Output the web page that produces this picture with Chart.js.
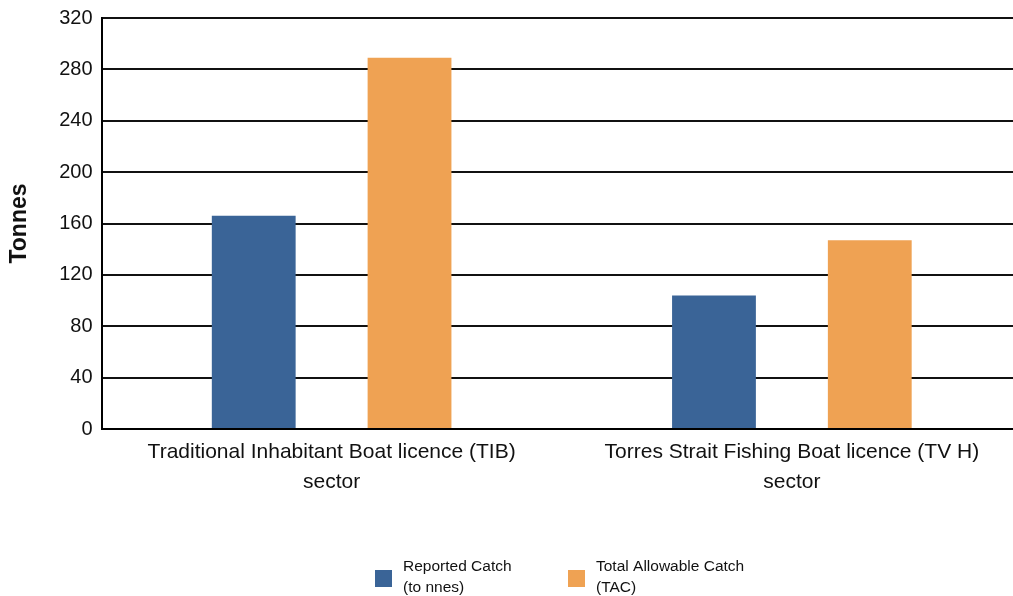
<!DOCTYPE html>
<html>
<head>
<meta charset="utf-8">
<script src="https://cdn.jsdelivr.net/npm/chart.js@4.4.1/dist/chart.umd.min.js"></script>
<style>
  html, body { margin: 0; padding: 0; background: #fff; overflow: hidden; }
  #wrap { width: 1023px; height: 596px; }
</style>
</head>
<body>
<div id="wrap"><canvas id="catchChart"></canvas></div>
<script>
  const categories = [
    ['Traditional Inhabitant Boat licence (TIB)', 'sector'],
    ['Torres Strait Fishing Boat licence (TV H)', 'sector']
  ];
  const reportedCatch = [166, 104];
  const totalAllowable = [289, 147];
  const seriesNames = ['Reported Catch (to nnes)', 'Total Allowable Catch (TAC)'];
  const legendLines = [['Reported Catch', '(to nnes)'], ['Total Allowable Catch', '(TAC)']];
  const yTicks = [0, 40, 80, 120, 160, 200, 240, 280, 320];

  const FONT = '"Liberation Sans", Arial, sans-serif';
  const BLUE = '#3a6497';
  const ORANGE = '#efa253';

  // two-line legend under the chart, drawn on the canvas
  const legendPlugin = {
    id: 'twoLineLegend',
    afterDraw(chart) {
      const c = chart.ctx;
      const boxX = [375, 568];
      c.save();
      c.font = '15.5px ' + FONT;
      c.textBaseline = 'middle';
      chart.data.datasets.forEach((ds, i) => {
        c.fillStyle = ds.backgroundColor;
        c.fillRect(boxX[i], 570, 17, 17);
        c.fillStyle = '#111';
        legendLines[i].forEach((line, j) => {
          c.fillText(line, boxX[i] + 28, 567 + j * 21);
        });
      });
      c.restore();
    }
  };

  const ctx = document.getElementById('catchChart').getContext('2d');

  const catchChart = new Chart(ctx, {
    type: 'bar',
    data: {
      labels: categories,
      datasets: [
        { label: seriesNames[0], data: reportedCatch, backgroundColor: BLUE },
        { label: seriesNames[1], data: totalAllowable, backgroundColor: ORANGE }
      ]
    },
    options: {
      responsive: true,
      maintainAspectRatio: false,
      animation: false,
      categoryPercentage: 0.677,
      barPercentage: 0.538,
      layout: { padding: { top: 18, right: 1, left: 0, bottom: 0 } },
      plugins: {
        legend: { display: false },
        tooltip: { enabled: false }
      },
      scales: {
        x: {
          grid: { display: false, drawTicks: false },
          border: { display: true, color: '#000', width: 2 },
          ticks: {
            color: '#111',
            padding: 9,
            maxRotation: 0,
            autoSkip: false,
            font: { family: FONT, size: 21, lineHeight: 1.4 }
          },
          afterFit(scale) { scale.height = 167; }
        },
        y: {
          min: 0,
          max: 320,
          afterBuildTicks(scale) { scale.ticks = yTicks.map(v => ({ value: v })); },
          grid: { color: '#111', lineWidth: 2, drawTicks: false },
          border: { display: true, color: '#000', width: 2 },
          ticks: {
            color: '#111',
            padding: 9,
            font: { family: FONT, size: 20 }
          },
          title: {
            display: true,
            text: 'Tonnes',
            color: '#111',
            padding: { top: 6, bottom: 0 },
            font: { family: FONT, size: 23, weight: 'bold' }
          },
          afterFit(scale) {
            scale.width = 101.5;
            scale.paddingTop = 0;
          }
        }
      }
    },
    plugins: [legendPlugin]
  });
</script>
</body>
</html>
